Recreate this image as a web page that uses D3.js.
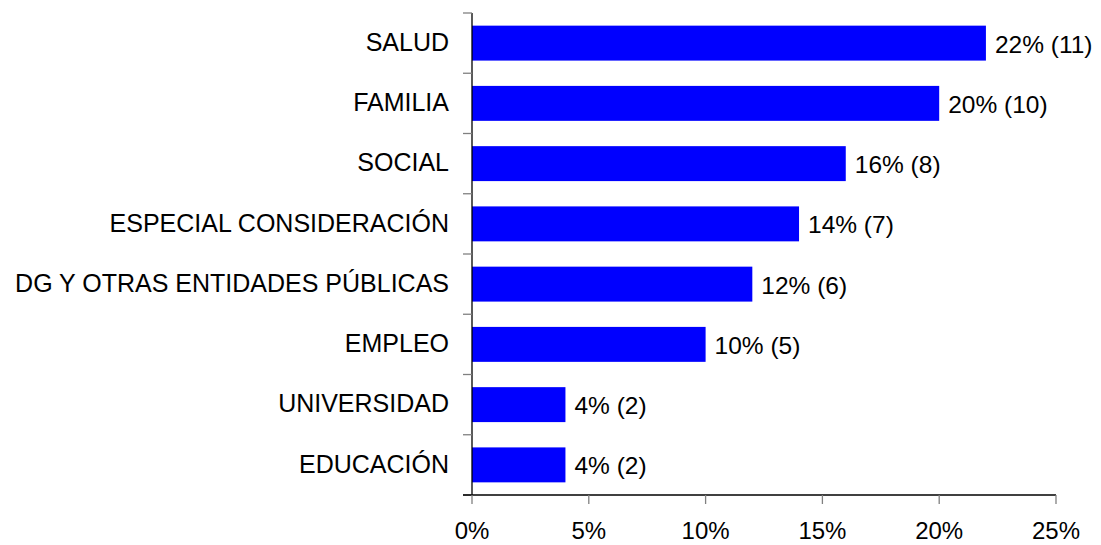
<!DOCTYPE html>
<html><head><meta charset="utf-8">
<script src="https://cdn.jsdelivr.net/npm/d3@7"></script>
<style>body{margin:0;background:#fff;}svg{display:block;}text{font-family:"Liberation Sans",Arial,sans-serif;}</style>
</head><body><svg id="c" width="1101" height="545"></svg>
<script>
const categories = ["SALUD","FAMILIA","SOCIAL","ESPECIAL CONSIDERACIÓN","DG Y OTRAS ENTIDADES PÚBLICAS","EMPLEO","UNIVERSIDAD","EDUCACIÓN"];
const percents = [22,20,16,14,12,10,4,4];
const counts = [11,10,8,7,6,5,2,2];
const xTicks = [0,5,10,15,20,25];

(function(){
const svg = d3.select("#c");
const mLeft = 472, mRight = 1056, mTop = 13, mBottom = 495;
const x = d3.scaleLinear().domain([0,25]).range([mLeft,mRight]);
const y = d3.scaleBand().domain(categories).range([mTop,mBottom]).paddingInner(0.42).paddingOuter(0.21);

svg.append("g").selectAll("rect").data(categories).join("rect")
  .attr("x", x(0)).attr("y", d=>y(d)).attr("height", y.bandwidth())
  .attr("width", (d,i)=>x(percents[i])-x(0)).attr("fill","#0000ff");

const yStep = (mBottom-mTop)/categories.length;
const yg = svg.append("g");
yg.append("line").attr("x1",mLeft).attr("x2",mLeft).attr("y1",mTop).attr("y2",mBottom).attr("stroke","#000").attr("stroke-width",1.3);
yg.selectAll("line.t").data(d3.range(categories.length+1)).join("line").attr("class","t")
  .attr("x1",mLeft-9).attr("x2",mLeft).attr("y1",i=>mTop+i*yStep).attr("y2",i=>mTop+i*yStep)
  .attr("stroke","#808080").attr("stroke-width",1.3);
yg.selectAll("text").data(categories).join("text")
  .attr("x",mLeft-23).attr("y",d=>y(d)+y.bandwidth()/2-1).attr("dy","0.35em")
  .attr("text-anchor","end").attr("font-size",25).attr("fill","#000").text(d=>d);

const xg = svg.append("g");
xg.append("line").attr("x1",mLeft-9).attr("x2",mRight).attr("y1",mBottom).attr("y2",mBottom).attr("stroke","#000").attr("stroke-width",1.3);
xg.selectAll("line.t").data(xTicks).join("line").attr("class","t")
  .attr("x1",d=>x(d)).attr("x2",d=>x(d)).attr("y1",mBottom).attr("y2",mBottom+9)
  .attr("stroke","#808080").attr("stroke-width",1.3);
xg.selectAll("text").data(xTicks).join("text")
  .attr("x",d=>x(d)).attr("y",539).attr("text-anchor","middle").attr("font-size",24).attr("fill","#000").text(d=>d+"%");

svg.append("g").selectAll("text").data(categories).join("text")
  .attr("x",(d,i)=>x(percents[i])+9).attr("y",d=>y(d)+y.bandwidth()/2+1).attr("dy","0.35em")
  .attr("font-size",24.5).attr("fill","#000").text((d,i)=>percents[i]+"% ("+counts[i]+")");
})();
</script></body></html>
